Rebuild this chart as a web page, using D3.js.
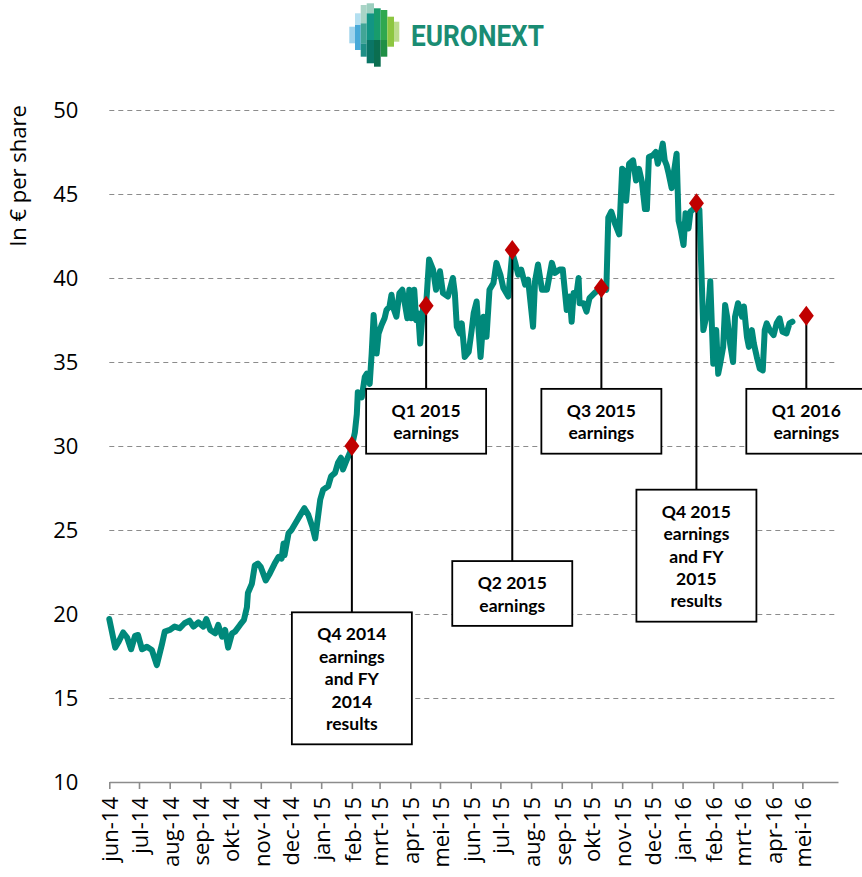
<!DOCTYPE html>
<html>
<head>
<meta charset="utf-8">
<script src="https://cdn.jsdelivr.net/npm/d3@7"></script>
<style>
  html, body { margin: 0; padding: 0; background: #fff; }
  svg { display: block; }
</style>
</head>
<body>
<svg id="chart" width="862" height="877"></svg>
<script>
// ---- data ----
var startDate = new Date(2014, 5, 1);
var endDate = new Date(2016, 5, 6);

var tickLabels = ['jun-14', 'jul-14', 'aug-14', 'sep-14', 'okt-14', 'nov-14', 'dec-14',
  'jan-15', 'feb-15', 'mrt-15', 'apr-15', 'mei-15', 'jun-15', 'jul-15', 'aug-15', 'sep-15',
  'okt-15', 'nov-15', 'dec-15', 'jan-16', 'feb-16', 'mrt-16', 'apr-16', 'mei-16'];

var yTicks = [10, 15, 20, 25, 30, 35, 40, 45, 50];

// days since 1 June 2014
var priceDays = [0, 6, 9, 14, 18, 22, 26, 29, 33, 38, 43, 48, 53, 56, 61, 66, 71, 76, 81, 85,
  90, 95, 98, 102, 107, 110, 114, 117, 120, 124, 127, 132, 136, 139, 140, 144, 147, 150, 153, 158,
  162, 167, 171, 174, 176, 177, 181, 184, 188, 193, 197, 201, 205, 208, 213, 216, 221, 224, 228, 231,
  234, 236, 240, 243, 245, 248, 250, 251, 255, 258, 260, 263, 265, 267, 270, 272, 275, 278, 280, 283,
  285, 287, 290, 293, 296, 299, 301, 303, 305, 308, 310, 312, 314, 317, 320, 323, 327, 330, 334, 337,
  342, 347, 349, 351, 354, 356, 359, 363, 366, 368, 371, 373, 375, 378, 381, 384, 388, 391, 395, 398,
  403, 407, 410, 413, 416, 420, 423, 428, 430, 433, 437, 442, 447, 450, 455, 458, 462, 465, 467, 469,
  472, 474, 475, 479, 482, 485, 490, 494, 497, 502, 504, 507, 511, 515, 518, 521, 522, 525, 529, 532,
  535, 538, 541, 543, 545, 549, 552, 554, 557, 559, 561, 563, 565, 568, 570, 573, 575, 577, 580, 582,
  585, 587, 590, 593, 596, 598, 600, 603, 605, 607, 610, 613, 615, 617, 620, 622, 624, 627, 630, 632,
  635, 639, 641, 644, 646, 649, 651, 654, 657, 660, 662, 664, 667, 671, 674, 677, 680, 684, 687, 690];

var prices = [19.7, 18.0, 18.3, 18.9, 18.6, 17.9, 18.7, 18.75, 17.9, 18.05, 17.86, 16.96, 18.15, 18.95, 19.05, 19.25, 19.15, 19.45, 19.6, 19.25,
  19.5, 19.25, 19.7, 19.05, 18.85, 19.35, 18.65, 19.05, 18.0, 18.85, 18.95, 19.35, 19.65, 20.4, 21.25, 21.8, 22.9, 23.0, 22.8, 22.0,
  22.4, 23.0, 23.4, 23.3, 24.2, 23.5, 24.8, 25.0, 25.4, 25.9, 26.3, 25.9, 25.2, 24.5, 26.8, 27.4, 27.6, 28.2, 28.4, 29.0,
  29.3, 28.6, 29.2, 29.6, 30.0, 30.8, 31.9, 33.2, 32.9, 34.1, 34.3, 33.7, 35.5, 37.8, 35.5, 36.7, 37.2, 37.6, 38.1, 38.3,
  39.0, 38.2, 37.7, 39.1, 39.3, 38.3, 37.6, 39.3, 37.6, 39.3, 37.5, 37.9, 36.1, 38.3, 38.4, 41.1, 40.5, 39.3, 40.4, 39.1,
  38.9, 40.0, 39.1, 37.1, 36.7, 37.3, 35.3, 35.6, 36.9, 37.9, 38.6, 36.9, 35.3, 37.7, 36.5, 39.3, 39.7, 40.9, 40.2, 39.4,
  38.9, 41.5, 40.9, 40.2, 40.5, 39.6, 39.9, 37.1, 39.8, 40.8, 39.3, 39.3, 40.9, 40.3, 40.5, 40.5, 38.1, 38.9, 37.4, 39.1,
  39.1, 40.0, 38.5, 38.5, 38.0, 38.8, 39.1, 39.3, 39.6, 39.3, 43.6, 43.95, 43.2, 42.6, 46.5, 46.3, 44.6, 46.8, 47.0, 45.8,
  46.5, 45.7, 44.1, 44.1, 47.2, 47.3, 47.5, 46.8, 47.4, 48.0, 47.0, 46.7, 46.2, 45.35, 46.2, 47.4, 43.4, 42.9, 41.96, 43.85,
  42.95, 43.95, 44.1, 44.4, 44.05, 40.5, 36.9, 37.7, 38.1, 39.8, 34.9, 36.9, 34.3, 34.9, 35.9, 38.4, 37.7, 36.1, 35.0, 37.7,
  38.5, 37.7, 38.3, 36.5, 35.9, 36.9, 36.1, 35.3, 34.6, 34.5, 36.9, 37.3, 36.9, 36.6, 37.3, 37.6, 36.8, 36.7, 37.3, 37.4];

var eventLabels = [
  ['Q4 2014', 'earnings', 'and FY', '2014', 'results'],
  ['Q1 2015', 'earnings'],
  ['Q2 2015', 'earnings'],
  ['Q3 2015', 'earnings'],
  ['Q4 2015', 'earnings', 'and FY', '2015', 'results'],
  ['Q1 2016', 'earnings']
];
var eventDays = [245, 320, 407, 497, 593, 704];
var eventPrices = [30.0, 38.35, 41.67, 39.4, 44.45, 37.75];

// ---- layout ----
var W = 862, H = 877;
var plotLeft = 109.3, plotRight = 838, plotTop = 110, plotBottom = 782;
var boxTopValue = [20.1, 33.4, 23.15, 33.4, 27.4, 33.4];   // box top, in € units
var boxWidth = 120, lineStep = 22.4;
var teal = '#00897b', red = '#c00000', grey = '#8c8c8c';

var svg = d3.select('#chart');
svg.append('rect').attr('width', W).attr('height', H).attr('fill', '#fff');

var x = d3.scaleTime().domain([startDate, endDate]).range([plotLeft, plotRight]);
var y = d3.scaleLinear().domain([10, 50]).range([plotBottom, plotTop]);

function dayToDate(d) {
  return d3.timeDay.offset(startDate, d);
}

// logo
var logo = svg.append('g');
var logoBlocks = [
  [349.3, 26.7, 5.7, 16.6, '#9fd3ec'],
  [355, 13.3, 5.7, 11.7, '#b3dff0'], [355, 25, 5.7, 25, '#47a9d8'],
  [360.7, 5, 6, 18.3, '#a9d4c6'], [360.7, 23.3, 6, 20, '#41a596'], [360.7, 43.3, 6, 13.4, '#1e8f86'],
  [366.7, 3.3, 7.3, 10, '#9ccfbf'], [366.7, 13.3, 7.3, 26.7, '#129584'], [366.7, 40, 7.3, 23.3, '#0a7566'],
  [374, 8.3, 6.7, 31.7, '#189c6c'], [374, 40, 6.7, 26.7, '#0b6e50'],
  [380.7, 10, 6.6, 30, '#2fa84f'], [380.7, 40, 6.6, 16.7, '#1f8f45'],
  [387.3, 16.7, 6.7, 30, '#8dc641'],
  [394, 21.7, 5.3, 20, '#bcdc8e']
];
logo.selectAll('rect').data(logoBlocks).enter().append('rect')
  .attr('x', function(d) { return d[0]; })
  .attr('y', function(d) { return d[1]; })
  .attr('width', function(d) { return d[2]; })
  .attr('height', function(d) { return d[3]; })
  .attr('fill', function(d) { return d[4]; });
logo.append('text')
  .attr('x', 411).attr('y', 46)
  .attr('textLength', 133).attr('lengthAdjust', 'spacingAndGlyphs')
  .style('font-family', 'Roboto, sans-serif').style('font-weight', 700).style('font-size', '29px')
  .attr('fill', '#1a8c73')
  .text('EURONEXT');

// gridlines + y labels
var yAxis = svg.append('g')
  .attr('transform', 'translate(' + plotLeft + ',0)')
  .call(d3.axisLeft(y).tickValues(yTicks).tickSize(-(plotRight - plotLeft)).tickPadding(31));
yAxis.select('.domain').remove();
yAxis.selectAll('.tick line')
  .attr('stroke', grey).attr('stroke-width', 1.2).attr('stroke-dasharray', '5,4')
  .filter(function(d) { return d === 10; }).remove();
yAxis.selectAll('.tick text')
  .attr('fill', '#000')
  .style('font-family', '"Open Sans", sans-serif').style('font-size', '22px');

svg.append('text')
  .attr('transform', 'translate(26,176) rotate(-90)')
  .attr('text-anchor', 'middle')
  .style('font-family', '"Open Sans", sans-serif').style('font-size', '22px')
  .text('In € per share');

// x axis
var monthTicks = d3.timeMonth.range(startDate, d3.timeDay.offset(endDate, -20));
var xAxis = svg.append('g')
  .attr('transform', 'translate(0,' + plotBottom + ')')
  .call(d3.axisBottom(x).tickValues(monthTicks).tickSize(7).tickSizeOuter(0)
    .tickFormat(function(d, i) { return tickLabels[i]; }));
xAxis.select('.domain').attr('stroke', grey).attr('stroke-width', 1.6);
xAxis.selectAll('.tick line').attr('stroke', grey).attr('stroke-width', 1.6);
xAxis.selectAll('.tick text')
  .attr('transform', 'rotate(-90)')
  .attr('x', -15).attr('y', 0).attr('dy', '0.38em')
  .attr('text-anchor', 'end')
  .attr('fill', '#000')
  .style('font-family', '"Open Sans", sans-serif').style('font-size', '22px');

// price line
var series = priceDays.map(function(d, i) { return { date: dayToDate(d), price: prices[i] }; });
var line = d3.line()
  .x(function(d) { return x(d.date); })
  .y(function(d) { return y(d.price); });
svg.append('path')
  .datum(series)
  .attr('d', line)
  .attr('fill', 'none')
  .attr('stroke', teal)
  .attr('stroke-width', 6)
  .attr('stroke-linejoin', 'round')
  .attr('stroke-linecap', 'round');

// event annotations
var events = eventDays.map(function(d, i) {
  return {
    date: dayToDate(d),
    price: eventPrices[i],
    lines: eventLabels[i],
    top: boxTopValue[i]
  };
});

var ev = svg.append('g').selectAll('g').data(events).enter().append('g');

ev.append('line')
  .attr('x1', function(d) { return x(d.date); })
  .attr('x2', function(d) { return x(d.date); })
  .attr('y1', function(d) { return y(d.price); })
  .attr('y2', function(d) { return y(d.top); })
  .attr('stroke', '#000').attr('stroke-width', 2);

ev.append('rect')
  .attr('x', function(d) { return x(d.date) - boxWidth / 2; })
  .attr('y', function(d) { return y(d.top); })
  .attr('width', boxWidth)
  .attr('height', function(d) { return d.lines.length * lineStep + 20; })
  .attr('fill', '#fff').attr('stroke', '#000').attr('stroke-width', 1.8);

ev.each(function(d) {
  var t = d3.select(this).append('text')
    .attr('text-anchor', 'middle')
    .style('font-family', 'Lato, sans-serif').style('font-weight', 700).style('font-size', '17.5px');
  d.lines.forEach(function(s, j) {
    t.append('tspan')
      .attr('x', x(d.date))
      .attr('y', y(d.top) + 22 + j * lineStep)
      .attr('dy', '0.35em')
      .text(s);
  });
});

ev.append('path')
  .attr('transform', function(d) { return 'translate(' + x(d.date) + ',' + y(d.price) + ')'; })
  .attr('d', 'M0,-10L7.5,0L0,10L-7.5,0Z')
  .attr('fill', red);
</script>
</body>
</html>
